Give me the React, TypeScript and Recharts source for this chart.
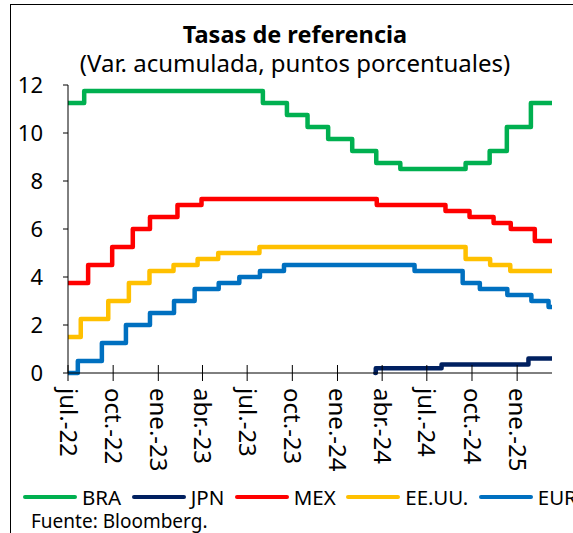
import React from 'react';
import { LineChart, Line, XAxis, YAxis } from 'recharts';

const FONT = '"Noto Sans", "Open Sans", sans-serif';
const toMs = (s: string) => Date.parse(s + 'T00:00:00Z');

// ---- Data (cumulative change, percentage points) ----
const braDates = ['2022-07-01', '2022-08-03', '2023-08-02', '2023-09-20', '2023-11-01', '2023-12-13', '2024-01-31', '2024-03-20', '2024-05-08', '2024-09-18', '2024-11-06', '2024-12-11', '2025-01-29', '2025-03-13'];
const braValues = [11.25, 11.75, 11.25, 10.75, 10.25, 9.75, 9.25, 8.75, 8.5, 8.75, 9.25, 10.25, 11.25, 11.25];

const jpnDates = ['2024-03-18', '2024-03-19', '2024-07-31', '2025-01-24', '2025-03-13'];
const jpnValues = [0, 0.2, 0.35, 0.6, 0.6];

const mexDates = ['2022-07-01', '2022-08-11', '2022-09-29', '2022-11-10', '2022-12-15', '2023-02-09', '2023-03-30', '2024-03-21', '2024-08-08', '2024-09-26', '2024-11-14', '2024-12-19', '2025-02-06', '2025-03-13'];
const mexValues = [3.75, 4.5, 5.25, 6, 6.5, 7, 7.25, 7, 6.75, 6.5, 6.25, 6, 5.5, 5.5];

const usDates = ['2022-07-01', '2022-07-27', '2022-09-21', '2022-11-02', '2022-12-14', '2023-02-01', '2023-03-22', '2023-05-03', '2023-07-26', '2024-09-18', '2024-11-07', '2024-12-18', '2025-03-13'];
const usValues = [1.5, 2.25, 3, 3.75, 4.25, 4.5, 4.75, 5, 5.25, 4.75, 4.5, 4.25, 4.25];

const eurDates = ['2022-07-01', '2022-07-21', '2022-09-08', '2022-10-27', '2022-12-15', '2023-02-02', '2023-03-16', '2023-05-04', '2023-06-15', '2023-07-27', '2023-09-14', '2024-06-06', '2024-09-12', '2024-10-17', '2024-12-12', '2025-01-30', '2025-03-06', '2025-03-13'];
const eurValues = [0, 0.5, 1.25, 2, 2.5, 3, 3.5, 3.75, 4, 4.25, 4.5, 4.25, 3.75, 3.5, 3.25, 3, 2.75, 2.75];

const xTickDates = ['2022-07-01', '2022-10-01', '2023-01-01', '2023-04-01', '2023-07-01', '2023-10-01', '2024-01-01', '2024-04-01', '2024-07-01', '2024-10-01', '2025-01-01'];
const xTickLabels = ['jul.-22', 'oct.-22', 'ene.-23', 'abr.-23', 'jul.-23', 'oct.-23', 'ene.-24', 'abr.-24', 'jul.-24', 'oct.-24', 'ene.-25'];
const yTicks = [0, 2, 4, 6, 8, 10, 12];

const xDomainStart = '2022-07-01';
const xDomainEnd = '2025-03-13';

const series = [
  { name: 'BRA', color: '#00B050', dates: braDates, values: braValues },
  { name: 'JPN', color: '#002060', dates: jpnDates, values: jpnValues },
  { name: 'MEX', color: '#FF0000', dates: mexDates, values: mexValues },
  { name: 'EE.UU.', color: '#FFC000', dates: usDates, values: usValues },
  { name: 'EUR', color: '#0070C0', dates: eurDates, values: eurValues },
];

const seriesData = series.map((s) => ({
  ...s,
  data: s.dates.map((d, i) => ({ t: toMs(d), v: s.values[i] })),
}));

const tickMs = xTickDates.map(toMs);

const XTick = (props: any) => {
  const { x, y, payload } = props;
  const i = tickMs.indexOf(payload.value);
  return (
    <g>
      <line x1={x} x2={x} y1={y - 8} y2={y + 8} stroke="#000" strokeWidth={1} />
      <text
        transform={`translate(${x},${y + 15}) rotate(90)`}
        textAnchor="start"
        dy="0.35em"
        fontSize={24}
        fontFamily={FONT}
        fill="#000"
      >
        {xTickLabels[i]}
      </text>
    </g>
  );
};

export default function App() {
  return (
    <div style={{ position: 'fixed', left: 0, top: 0, width: 573, height: 533, overflow: 'hidden', background: '#fff', fontFamily: FONT }}>
      <div style={{ position: 'absolute', left: 10, top: 4, width: 700, height: 700, borderLeft: '1.5px solid #000', borderTop: '1.5px solid #000' }} />
      <div style={{ position: 'absolute', left: 0, top: 0 }}>
        <LineChart width={573} height={533} margin={{ top: 85, right: 21, left: 0, bottom: 60 }}>
          <XAxis
            dataKey="t"
            type="number"
            domain={[toMs(xDomainStart), toMs(xDomainEnd)]}
            allowDataOverflow
            ticks={tickMs}
            tick={<XTick />}
            tickLine={false}
            tickSize={0}
            tickMargin={0}
            interval={0}
            height={100}
            axisLine={{ stroke: '#000', strokeWidth: 1 }}
          />
          <YAxis
            type="number"
            domain={[0, 12]}
            ticks={yTicks}
            interval={0}
            width={68}
            tickSize={5}
            tickMargin={20}
            axisLine={{ stroke: '#000', strokeWidth: 1 }}
            tickLine={{ stroke: '#000', strokeWidth: 1 }}
            tick={{ fontSize: 22, fontFamily: FONT, fill: '#000' }}
          />
          {seriesData.map((s) => (
            <Line
              key={s.name}
              data={s.data}
              dataKey="v"
              name={s.name}
              type="stepAfter"
              stroke={s.color}
              strokeWidth={4.5}
              strokeLinecap="round"
              strokeLinejoin="round"
              dot={false}
              activeDot={false}
              isAnimationActive={false}
            />
          ))}
        </LineChart>
      </div>
      <svg width={573} height={533} style={{ position: 'absolute', left: 0, top: 0, pointerEvents: 'none' }}>
        <text x={295} y={43} textAnchor="middle" fontWeight="bold" fontSize={23.5} fontFamily={FONT} fill="#000">
          Tasas de referencia
        </text>
        <text x={295} y={72} textAnchor="middle" fontSize={24} fontFamily={FONT} fill="#000">
          (Var. acumulada, puntos porcentuales)
        </text>
      </svg>
      <div style={{ position: 'absolute', left: 23, top: 487, display: 'flex', alignItems: 'center', whiteSpace: 'nowrap', fontSize: 20.5, lineHeight: '20px', color: '#000' }}>
        {series.map((s) => (
          <div key={s.name} style={{ display: 'flex', alignItems: 'center', marginRight: 10.5 }}>
            <span style={{ display: 'inline-block', width: 54, height: 4.5, background: s.color, borderRadius: 2.25, marginRight: 5 }} />
            <span>{s.name}</span>
          </div>
        ))}
      </div>
      <div style={{ position: 'absolute', left: 31, top: 510.5, fontSize: 19, lineHeight: '20px', color: '#000', whiteSpace: 'nowrap' }}>
        Fuente: Bloomberg.
      </div>
    </div>
  );
}
